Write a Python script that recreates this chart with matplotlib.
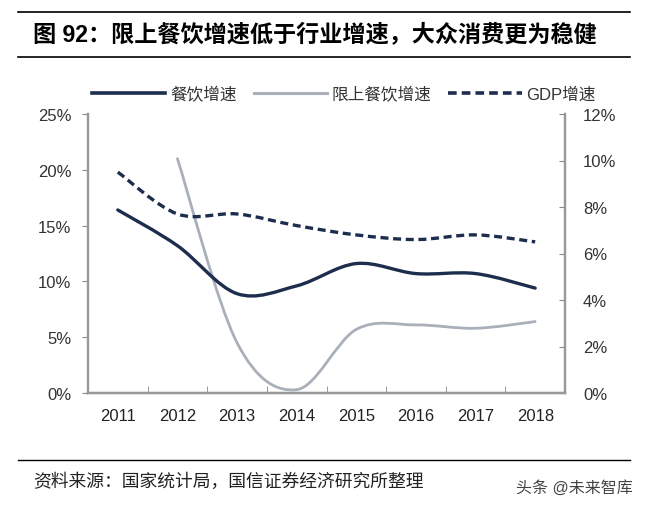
import matplotlib
matplotlib.use("Agg")
import matplotlib.pyplot as plt
from matplotlib.path import Path
from matplotlib.patches import PathPatch
from matplotlib.lines import Line2D
from matplotlib.ticker import FuncFormatter, FixedLocator
import numpy as np

plt.rcParams['font.family'] = ['Liberation Sans', 'Noto Sans CJK SC', 'DejaVu Sans']

years = ['2011', '2012', '2013', '2014', '2015', '2016', '2017', '2018']
catering = [16.4, 13.2, 8.9, 9.6, 11.6, 10.7, 10.7, 9.4]           # left axis
catering_above = [np.nan, 21.0, 4.5, 0.3, 5.7, 6.1, 5.8, 6.4]      # left axis
gdp = [9.5, 7.7, 7.7, 7.2, 6.8, 6.6, 6.8, 6.5]                     # right axis

NAVY = '#1c2d4d'
GREY = '#a9b0b9'


def smooth_path(xs, ys):
    # excel-like smoothed line: cubic bezier through every point
    pts = [(x, y) for x, y in zip(xs, ys) if not np.isnan(y)]
    pts = np.array(pts, dtype=float)
    n = len(pts)
    verts = [pts[0]]
    codes = [Path.MOVETO]
    for i in range(n - 1):
        p_prev = pts[i - 1] if i > 0 else pts[i]
        p0 = pts[i]
        p1 = pts[i + 1]
        p_next = pts[i + 2] if i + 2 < n else pts[i + 1]
        c1 = p0 + (p1 - p_prev) / 6.0
        c2 = p1 - (p_next - p0) / 6.0
        verts += [c1, c2, p1]
        codes += [Path.CURVE4] * 3
    return Path(verts, codes)


fig = plt.figure(figsize=(6.48, 5.10), dpi=100)
ax = fig.add_axes([88 / 648, 1 - 394 / 510, 477 / 648, 279 / 510])
ax2 = ax.twinx()

x = np.arange(len(years))
ax.add_patch(PathPatch(smooth_path(x, catering_above), fill=False,
                       edgecolor=GREY, lw=2.0, capstyle='round'))
ax.add_patch(PathPatch(smooth_path(x, catering), fill=False,
                       edgecolor=NAVY, lw=2.4, capstyle='round'))
ax2.add_patch(PathPatch(smooth_path(x, gdp), fill=False,
                        edgecolor=NAVY, lw=2.4, linestyle=(0, (2.4, 1.4))))

ax.set_xlim(-0.5, len(years) - 0.5)
ax.set_ylim(0, 25)
ax2.set_ylim(0, 12)
ax.set_yticks(np.arange(0, 26, 5))
ax2.set_yticks(np.arange(0, 13, 2))
ax.yaxis.set_major_formatter(FuncFormatter(lambda v, p: f'{v:.0f}%'))
ax2.yaxis.set_major_formatter(FuncFormatter(lambda v, p: f'{v:.0f}%'))

ax.set_xticks(x)
ax.set_xticklabels(years)
ax.xaxis.set_minor_locator(FixedLocator(np.arange(0.5, len(years) - 1, 1)))
ax.tick_params(axis='x', which='major', length=0, pad=11, labelsize=12, colors='#222222')
ax.tick_params(axis='x', which='minor', length=5, direction='in', color='#888888')
ax.tick_params(axis='y', length=4, direction='out', color='#888888', labelsize=12,
               labelcolor='#333333', pad=8)
ax2.tick_params(axis='y', length=4, direction='in', color='#888888', labelsize=12,
                labelcolor='#333333', pad=13)

for a in (ax, ax2):
    a.spines['top'].set_visible(False)
    for s in ('left', 'right', 'bottom'):
        a.spines[s].set_color('#999999')
        a.spines[s].set_linewidth(1.6)
ax.spines['bottom'].set_color('#555555')

handles = [Line2D([], [], color=NAVY, lw=2.6),
           Line2D([], [], color=GREY, lw=2.2),
           Line2D([], [], color=NAVY, lw=2.6, linestyle=(0, (2.4, 1.4)))]
fig.legend(handles, ['餐饮增速', '限上餐饮增速', 'GDP增速'], loc='center',
           bbox_to_anchor=(344 / 648, 1 - 95 / 510), ncol=3, frameon=False,
           fontsize=12, handlelength=4.4, handletextpad=0.3, columnspacing=1.0,
           labelcolor='#333333')

# header and footer
fig.add_artist(Line2D([18 / 648, 630 / 648], [1 - 13 / 510] * 2, color='black', lw=1.2))
fig.add_artist(Line2D([18 / 648, 630 / 648], [1 - 58 / 510] * 2, color='black', lw=1.2))
fig.text(33 / 648, 1 - 35 / 510, '图 92：限上餐饮增速低于行业增速，大众消费更为稳健',
         fontsize=16.7, fontweight='bold', va='center', ha='left')
fig.add_artist(Line2D([18 / 648, 630 / 648], [1 - 461 / 510] * 2, color='black', lw=1.0))
fig.text(33 / 648, 1 - 482 / 510, '资料来源：国家统计局，国信证券经济研究所整理',
         fontsize=12.8, va='center', ha='left', color='#222222')
fig.text(633 / 648, 1 - 488 / 510, '头条 @未来智库', fontsize=11.5, va='center',
         ha='right', color='#444444')

fig.savefig('out.png', dpi=100, facecolor='white')
